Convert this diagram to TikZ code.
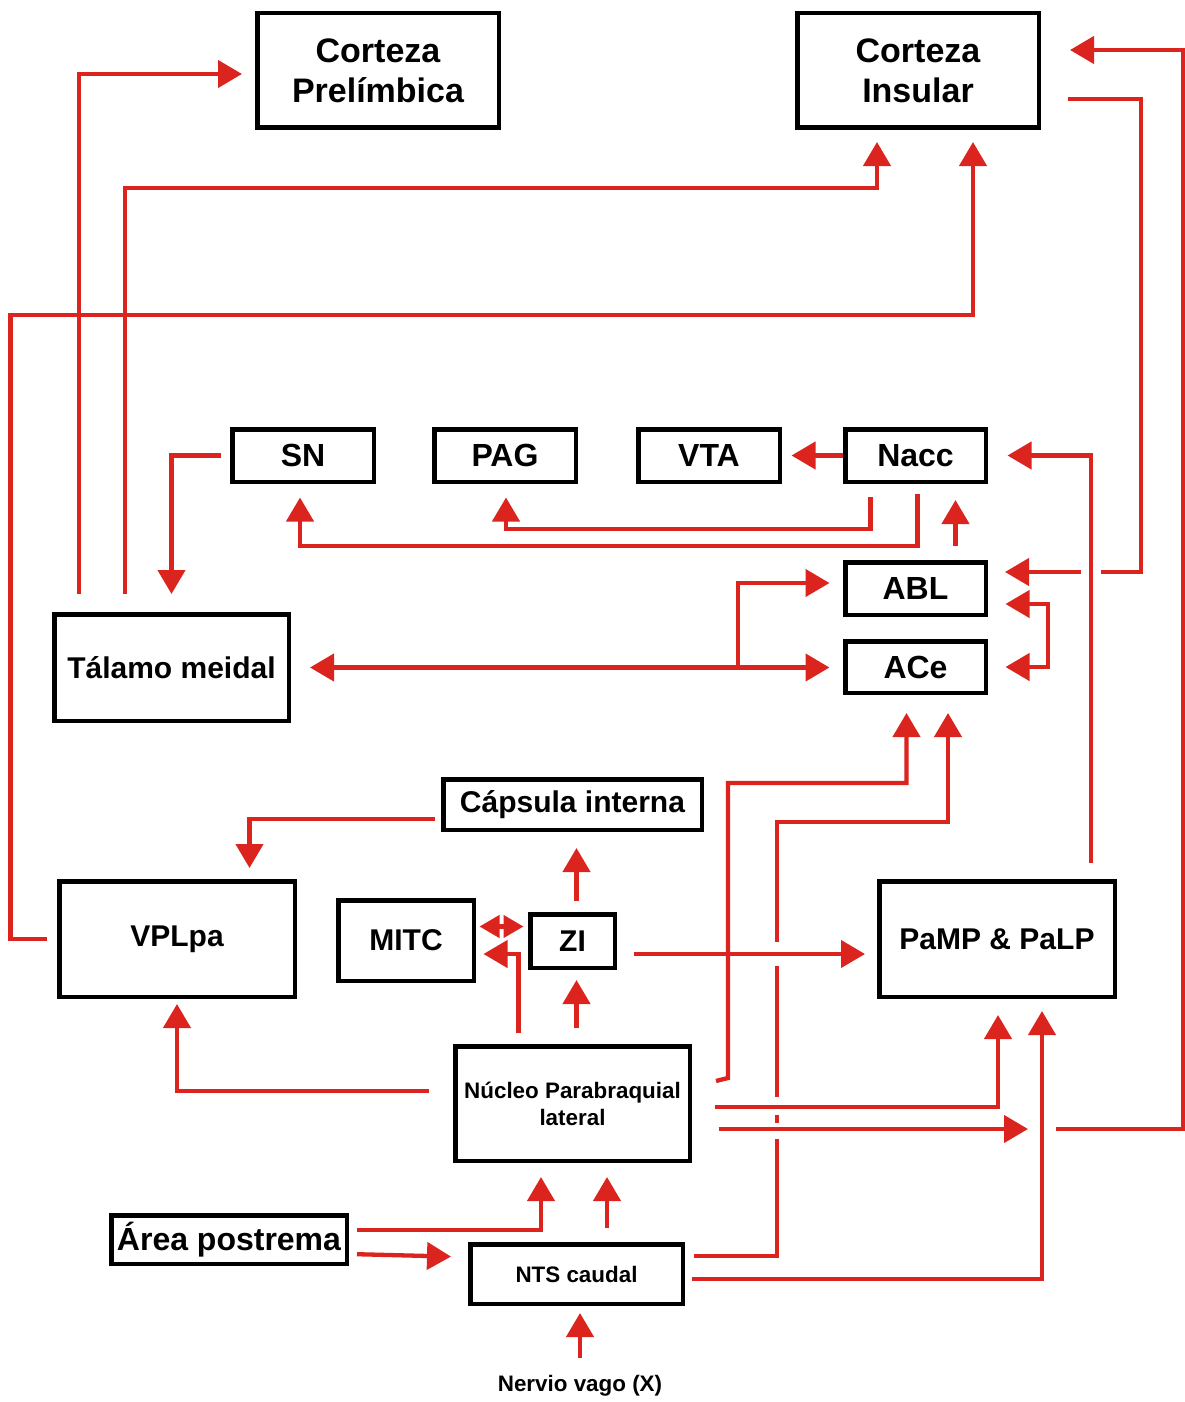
\documentclass[tikz,border=0pt]{standalone}
\usepackage{fontspec}
\setmainfont{Liberation Sans}
\usetikzlibrary{arrows.meta,calc}
\definecolor{myred}{RGB}{220,36,30}
\tikzset{
  box/.style={draw=black, line width=4.5pt, inner sep=0pt, outer sep=2.25pt, align=center},
  rl/.style={draw=myred, line width=4.3pt},
  arr/.style={rl, -{Triangle[length=24pt,width=27pt]}},
  darr/.style={rl, {Triangle[length=24pt,width=27pt]}-{Triangle[length=24pt,width=27pt]}},
  darrsmall/.style={rl, {Triangle[length=20pt,width=22pt]}-{Triangle[length=20pt,width=22pt]}},
  fA/.style={font=\bfseries\fontsize{34}{40}\selectfont},
  fB/.style={font=\bfseries\fontsize{32}{38}\selectfont},
  fC/.style={font=\bfseries\fontsize{30}{36}\selectfont},
  fD/.style={font=\bfseries\fontsize{22.4}{27}\selectfont},
}
\begin{document}
\begin{tikzpicture}[x=1pt,y=-1pt]
\fill[white] (0,0) rectangle (1185,1402);
\useasboundingbox (0,0) rectangle (1185,1402);

% boxes
\node[box,fA,minimum width=241.5pt,minimum height=114.5pt] (cpre) at (378,70.5) {Corteza\\Prelímbica};
\node[box,fA,minimum width=241.5pt,minimum height=114.5pt] (cins) at (918,70.5) {Corteza\\Insular};
\node[box,fB,minimum width=141.5pt,minimum height=52.5pt] (sn) at (303,455.5) {SN};
\node[box,fB,minimum width=141.5pt,minimum height=52.5pt] (pag) at (505,455.5) {PAG};
\node[box,fB,minimum width=141.5pt,minimum height=52.5pt] (vta) at (709,455.5) {VTA};
\node[box,fB,minimum width=140.5pt,minimum height=52.5pt] (nacc) at (915.5,455.5) {Nacc};
\node[box,fB,minimum width=140.5pt,minimum height=52.5pt] (abl) at (915.5,588.5) {ABL};
\node[box,fB,minimum width=140.5pt,minimum height=51.5pt] (ace) at (915.5,667) {ACe};
\node[box,fC,minimum width=234.5pt,minimum height=106.5pt] (tal) at (171.5,667.5) {Tálamo meidal};
\node[box,fC,minimum width=258.5pt,minimum height=50.5pt] (cap) at (572.5,804.5) {Cápsula interna};
\node[box,fC,minimum width=235.5pt,minimum height=115.5pt] (vpl) at (177,939) {VPLpa};
\node[box,fC,minimum width=135.5pt,minimum height=80.5pt] (mitc) at (406,940.5) {MITC};
\node[box,fC,minimum width=84.5pt,minimum height=53.5pt] (zi) at (572.5,941) {ZI};
\node[box,fC,minimum width=235.5pt,minimum height=115.5pt] (pamp) at (997,939) {PaMP \& PaLP};
\node[box,fD,minimum width=234.5pt,minimum height=114.5pt] (npb) at (572.5,1103.5) {Núcleo Parabraquial\\lateral};
\node[box,fB,minimum width=235.5pt,minimum height=48.5pt] (area) at (229,1239.5) {Área postrema};
\node[box,fD,minimum width=212.5pt,minimum height=59.5pt] (nts) at (576.5,1274) {NTS caudal};
\node[fD,inner sep=0pt,text height=16pt,text depth=5pt] (vago) at (580,1386) {Nervio vago (X)};

% named free ends
\coordinate (j1) at (1056,1129);
\coordinate (t25) at (1028,1129);
\coordinate (g1) at (1101,572);
\coordinate (g2) at (1081,572);
\coordinate (br) at (738,667.5);

% long connectors to cortex
\draw[arr, shorten <=18pt, shorten >=13pt] ([xshift=-92.5pt]tal.north) |- ([yshift=-3.5pt]cpre.west);
\draw[arr, shorten <=18pt, shorten >=12pt] ([xshift=-46.5pt]tal.north) -- ++(0,-424) -| ([xshift=-41pt]cins.south);
\draw[arr, shorten <=10pt, shorten >=12pt] (vpl.west) -- ++(-46.5,0) -- ++(0,-624) -| ([xshift=55pt]cins.south);
\draw[arr, shorten >=29pt] (j1) -- (1183,1129) |- ([yshift=20.5pt]cins.east);
\draw[rl, shorten <=27pt] ([yshift=-28.5pt]cins.east) -- ++(100,0) |- (g1);
\draw[arr, shorten >=17pt] (g2) -- ([yshift=16.5pt]abl.east);
\draw[arr, shorten <=16pt, shorten >=19.5pt] ([xshift=94pt]pamp.north) |- (nacc.east);

% top row
\draw[arr, shorten <=9pt, shorten >=18pt] (sn.west) -| (tal.north);
\draw[arr, shorten >=9.5pt] (nacc.west) -- (vta.east);
\draw[arr, shorten <=10pt, shorten >=13.5pt] ([xshift=2pt]nacc.south) -- ++(0,62) -| ([xshift=-3pt]sn.south);
\draw[arr, shorten <=12.5pt, shorten >=13.5pt] ([xshift=-45pt]nacc.south) -- ++(0,45) -| ([xshift=1pt]pag.south);
\draw[arr, shorten <=14pt, shorten >=16pt] ([xshift=40pt]abl.north) -- ([xshift=40pt]nacc.south);

% amygdala
\draw[darr, shorten <=19pt, shorten >=13.5pt] (tal.east) -- (tal.east -| ace.west);
\draw[arr, shorten >=13.5pt] (br) |- ([yshift=5.5pt]abl.west);
\draw[darr, shorten <=17.5pt, shorten >=17.5pt] ([yshift=-15.5pt]abl.east) -- ++(60,0) |- (ace.east);

% to ACe from below
\draw[arr, shorten >=18pt] ([xshift=24pt,yshift=22.5pt]npb.east) -- ++(12,-3) -- ++(0,-295) -| ([xshift=-9pt]ace.south);
\draw[arr, shorten <=9pt, shorten >=18pt] ([yshift=18pt]nts.east) -- ++(92,0) -- ++(0,-434) -| ([xshift=32.5pt]ace.south);
\fill[white] (770,942) rectangle (784,966);
\fill[white] (770,1097) rectangle (784,1115);
\fill[white] (770,1123) rectangle (784,1139);

% middle
\draw[arr, shorten <=16.5pt, shorten >=12pt] ([yshift=-13pt]zi.east) -- ([yshift=-15pt]pamp.west);
\draw[arr, shorten <=11pt, shorten >=16pt] ([xshift=4pt]zi.north) -- ([xshift=4pt]cap.south);
\draw[arr, shorten <=6.5pt, shorten >=11pt] ([yshift=-14.5pt]cap.west) -| ([xshift=72.5pt]vpl.north);
\draw[darrsmall, shorten <=3.5pt, shorten >=4.5pt] ([yshift=14pt]mitc.east) -- ([yshift=14pt]mitc.east -| zi.west);
\draw[arr, shorten <=11pt, shorten >=7.5pt] ([xshift=-54pt]npb.north) |- ([yshift=-13.5pt]mitc.east);
\draw[arr, shorten <=16pt, shorten >=10pt] ([xshift=4pt]npb.north) -- ([xshift=4pt]zi.south);
\draw[arr, shorten <=24.5pt, shorten >=5pt] ([yshift=12.5pt]npb.west) -| (vpl.south);
\draw[arr, shorten <=23pt, shorten >=16pt] ([yshift=-3.5pt]npb.east) -| ([xshift=1pt]pamp.south);
\draw[arr, shorten <=26.5pt] ([yshift=-25.5pt]npb.east) -- (t25);
\draw[arr, shorten <=7pt, shorten >=12pt] ([yshift=-5pt]nts.east) -| ([xshift=45pt]pamp.south);

% bottom
\draw[arr, shorten <=8pt, shorten >=14pt] ([yshift=9.5pt]area.east) -| ([xshift=-31.5pt]npb.south);
\draw[arr, shorten <=8pt, shorten >=17pt] ([yshift=-14.5pt]area.east) -- ([yshift=17pt]nts.west);
\draw[arr, shorten <=14pt, shorten >=14pt] ([xshift=30.5pt]nts.north) -- ([xshift=34.5pt]npb.south);
\draw[arr, shorten <=17.5pt, shorten >=7pt] (vago.north) -- (vago.north |- nts.south);
\end{tikzpicture}
\end{document}
